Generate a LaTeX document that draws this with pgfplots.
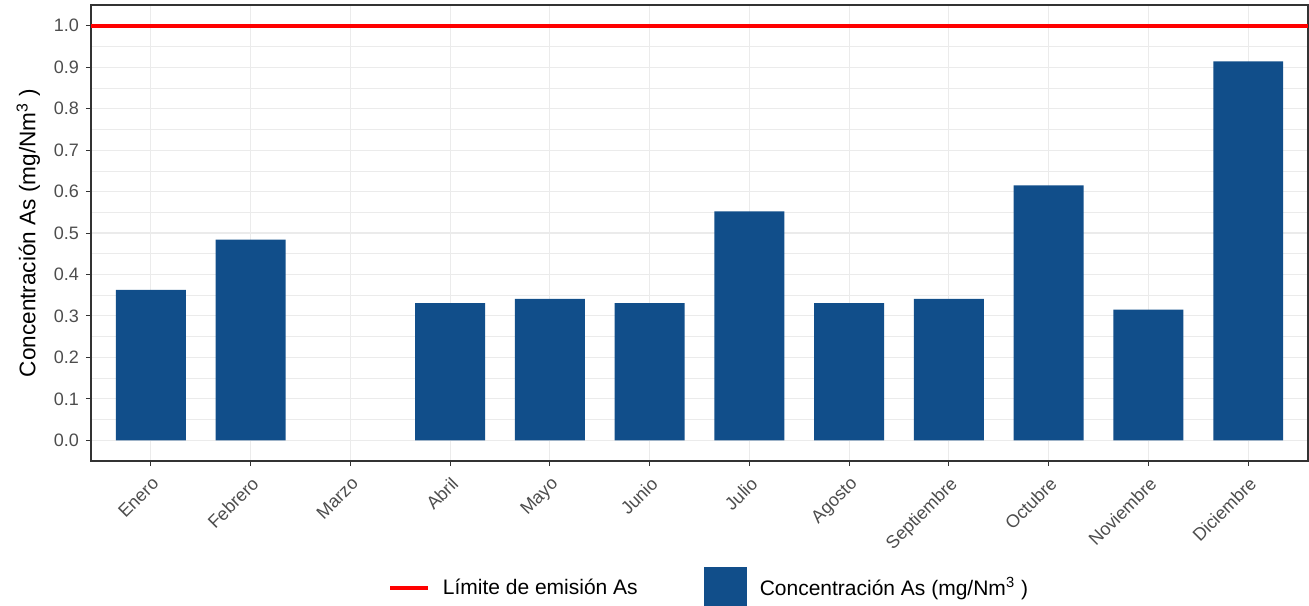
\documentclass[border=0pt]{standalone}
\usepackage{pgfplots}
\pgfplotsset{compat=1.18}
\usepackage{fontspec}
\setmainfont{Liberation Sans}

\definecolor{barblue}{HTML}{114E8A}
\definecolor{gridgray}{HTML}{EBEBEB}
\definecolor{tickgray}{HTML}{4D4D4D}
\definecolor{framegray}{HTML}{333333}

\begin{document}
\begin{tikzpicture}
\begin{axis}[
  scale only axis,
  width=608.5pt, height=228pt,
  xmin=0.4, xmax=12.6,
  ymin=-0.05, ymax=1.05,
  xtick={1,2,3,4,5,6,7,8,9,10,11,12},
  xticklabels={Enero,Febrero,Marzo,Abril,Mayo,Junio,Julio,Agosto,Septiembre,Octubre,Noviembre,Diciembre},
  ytick={0,0.1,0.2,0.3,0.4,0.5,0.6,0.7,0.8,0.9,1.0},
  minor y tick num=1,
  /pgf/number format/.cd, fixed, fixed zerofill, precision=1, assume math mode=true,
  /pgfplots/.cd,
  tick align=outside,
  tickpos=left,
  major tick length=2.5pt,
  minor tick length=0pt,
  every tick/.style={framegray, line width=0.5pt},
  axis line style={framegray, line width=0.6pt},
  grid=major,
  ymajorgrids, yminorgrids,
  major grid style={gridgray, line width=0.55pt},
  minor grid style={gridgray, line width=0.3pt},
  tick label style={font=\fontsize{9}{10}\selectfont, text=tickgray},
  xticklabel style={rotate=45, anchor=north east},
  ylabel={Concentración As (mg/Nm\textsuperscript{3} )},
  ylabel style={font=\fontsize{11.3}{13}\selectfont},
  legend columns=2,
  legend style={draw=none, fill=none, font=\fontsize{10.5}{12}\selectfont,
    at={(axis description cs:0.239,-0.2785)}, anchor=west,
    /tikz/every odd column/.append style={column sep=4.5pt},
    /tikz/every even column/.append style={column sep=31pt}},
]
\addplot[red, line width=2pt,
  legend image code/.code={\draw[red, line width=1.8pt] (0pt,0pt) -- (19pt,0pt);}]
  coordinates {(0.4,1.0) (12.6,1.0)};
\addlegendentry{Límite de emisión As}

\addplot[ybar, bar width=0.7, fill=barblue, draw=none,
  legend image code/.code={\fill[barblue] (0pt,-10.75pt) rectangle (21.5pt,10.75pt);}]
  coordinates {
    (1,0.363) (2,0.484) (4,0.331) (5,0.341) (6,0.331) (7,0.552)
    (8,0.331) (9,0.341) (10,0.615) (11,0.315) (12,0.914)
  };
\addlegendentry{Concentración As (mg/Nm\textsuperscript{3} )}
\end{axis}
\pgfresetboundingbox
\path[use as bounding box] (-45.5pt,-72pt) rectangle (609pt,230.5pt);
\end{tikzpicture}
\end{document}
